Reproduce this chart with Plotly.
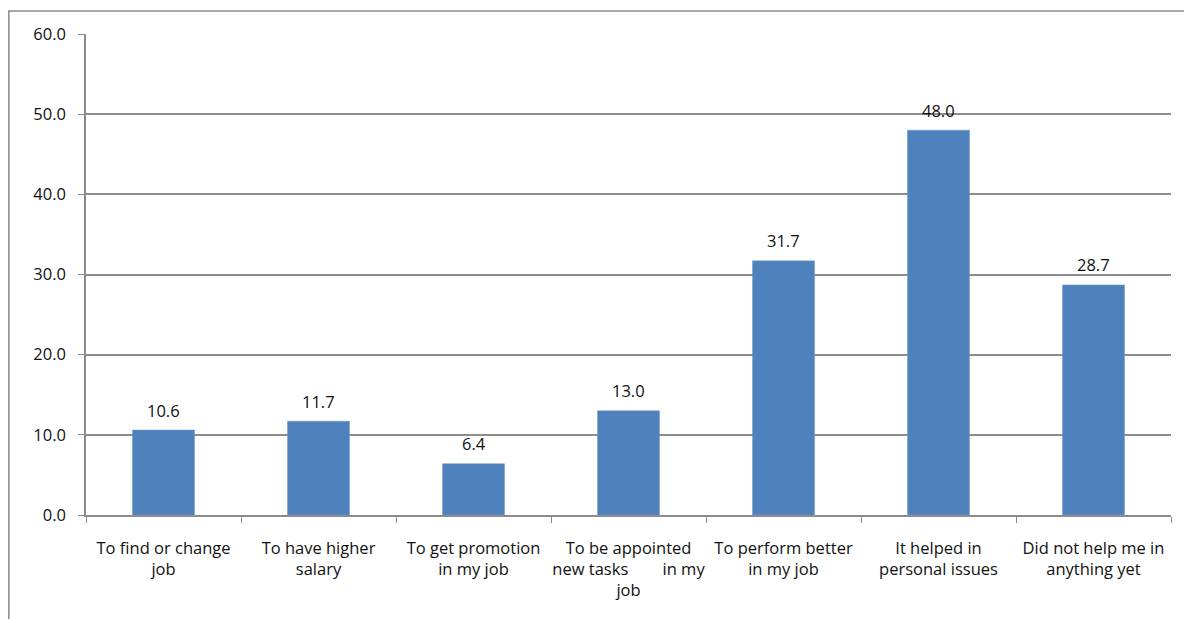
import plotly.graph_objects as go

categories = [
    "To find or change<br>job",
    "To have higher<br>salary",
    "To get promotion<br>in my job",
    "To be appointed<br>new tasks\u00a0\u00a0\u00a0\u00a0\u00a0\u00a0\u00a0\u00a0in my<br>job",
    "To perform better<br>in my job",
    "It helped in<br>personal issues",
    "Did not help me in<br>anything yet",
]
values = [10.6, 11.7, 6.4, 13.0, 31.7, 48.0, 28.7]
y_ticks = [0, 10, 20, 30, 40, 50, 60]

FONT = "Open Sans"
SIZE = 16.5
GRID = "#8c8c8c"

fig = go.Figure(
    go.Bar(
        x=categories,
        y=values,
        marker=dict(color="#4F81BD", line=dict(color="#6f97cc", width=0.5)),
        hoverinfo="x+y",
    )
)

# value labels above each bar
for c, v in zip(categories, values):
    fig.add_annotation(
        x=c, y=v, text=f"{v:.1f}", showarrow=False,
        yshift=20, font=dict(family=FONT, size=SIZE, color="#111111"),
    )

# frame around the whole chart
fig.add_shape(
    type="rect", xref="paper", yref="paper",
    x0=-0.0711, x1=1.2, y0=-0.4, y1=1.048,
    line=dict(color="#8a8a8a", width=1.5), layer="below",
)

fig.update_layout(
    width=1184, height=619,
    margin=dict(l=86, r=13, t=34, b=104),
    paper_bgcolor="white", plot_bgcolor="white",
    bargap=0.6, showlegend=False,
    font=dict(family=FONT, size=SIZE, color="#111111"),
)
fig.update_xaxes(
    showline=True, linecolor=GRID, linewidth=1.5,
    ticks="outside", tickson="boundaries", ticklen=6, tickcolor=GRID,
    tickfont=dict(family=FONT, size=SIZE, color="#111111"),
    ticklabelstandoff=17,
    showgrid=False, tickangle=0,
)
fig.update_yaxes(
    range=[0, 60], tickvals=y_ticks, tickformat=".1f",
    showline=True, linecolor=GRID, linewidth=1.5,
    ticks="outside", ticklen=6, tickcolor=GRID,
    showgrid=True, gridcolor=GRID, gridwidth=1.5,
    zeroline=False, ticklabelstandoff=9,
    tickfont=dict(family=FONT, size=SIZE, color="#111111"),
)

fig.write_html("out.html")
